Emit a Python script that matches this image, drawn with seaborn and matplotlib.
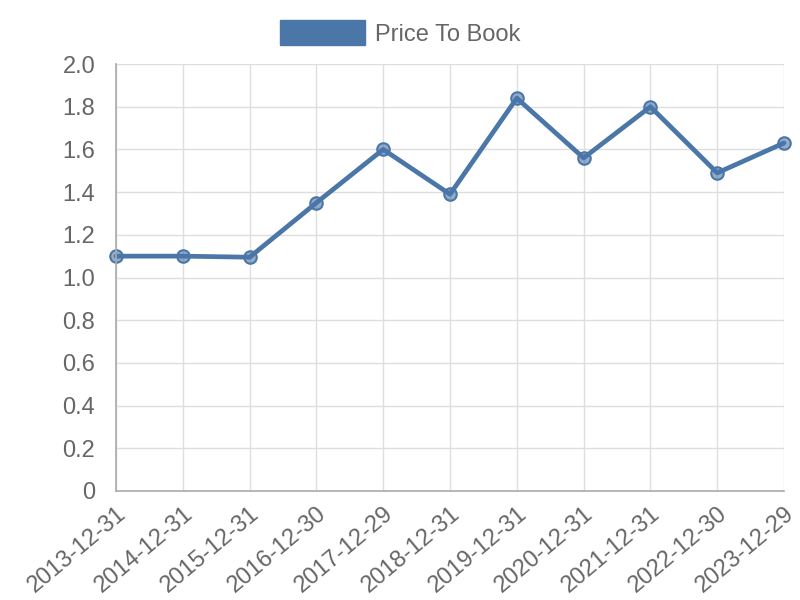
import pandas as pd
import matplotlib
matplotlib.use('Agg')
import matplotlib.pyplot as plt
from matplotlib.patches import Patch
import seaborn as sns

# data
dates = ['2013-12-31', '2014-12-31', '2015-12-31', '2016-12-30', '2017-12-29',
         '2018-12-31', '2019-12-31', '2020-12-31', '2021-12-31', '2022-12-30',
         '2023-12-29']
price_to_book = [1.10, 1.10, 1.095, 1.35, 1.60, 1.39, 1.84, 1.56, 1.80, 1.49, 1.63]

sns.set_theme(style='white')
plt.rcParams['font.family'] = ['Liberation Sans', 'DejaVu Sans']

LINE = '#4a76a8'
GRID = '#dedede'
TEXT = '#666666'

df = pd.DataFrame({'date': dates, 'ptb': price_to_book})

fig = plt.figure(figsize=(8, 6), dpi=100)
ax = fig.add_axes([0.145, 0.1817, 0.835, 0.7116])

sns.lineplot(data=df, x='date', y='ptb', ax=ax, color=LINE, linewidth=3.4,
             marker='o', markersize=9, markerfacecolor=(0.29, 0.46, 0.66, 0.6),
             markeredgecolor=LINE, markeredgewidth=1.5, sort=False, clip_on=False)

ax.set_xlim(0, len(dates) - 1)
ax.set_ylim(0, 2.0)
ax.set_yticks([i / 5 for i in range(11)])
ax.yaxis.set_major_formatter(plt.FuncFormatter(lambda v, p: '0' if v == 0 else f'{v:.1f}'))
ax.set_xticks(range(len(dates)))
ax.set_xticklabels(dates, rotation=40, ha='right', rotation_mode='anchor')
ax.set_xlabel('')
ax.set_ylabel('')

ax.grid(True, color=GRID, linewidth=1)
ax.tick_params(axis='both', length=6, color=GRID, labelcolor=TEXT, labelsize=17)
ax.tick_params(axis='y', pad=9)
ax.tick_params(axis='x', pad=2)
for side in ['top', 'right']:
    ax.spines[side].set_visible(False)
for side in ['left', 'bottom']:
    ax.spines[side].set_color('#aaaaaa')
    ax.spines[side].set_linewidth(1.2)

handle = Patch(facecolor=LINE, edgecolor=LINE)
fig.legend([handle], ['Price To Book'], loc='center', bbox_to_anchor=(0.5, 0.945),
           frameon=False, fontsize=17, labelcolor=TEXT,
           handlelength=3.6, handleheight=1.2, handletextpad=0.4)

plt.savefig('out.png', dpi=100)
plt.close()
